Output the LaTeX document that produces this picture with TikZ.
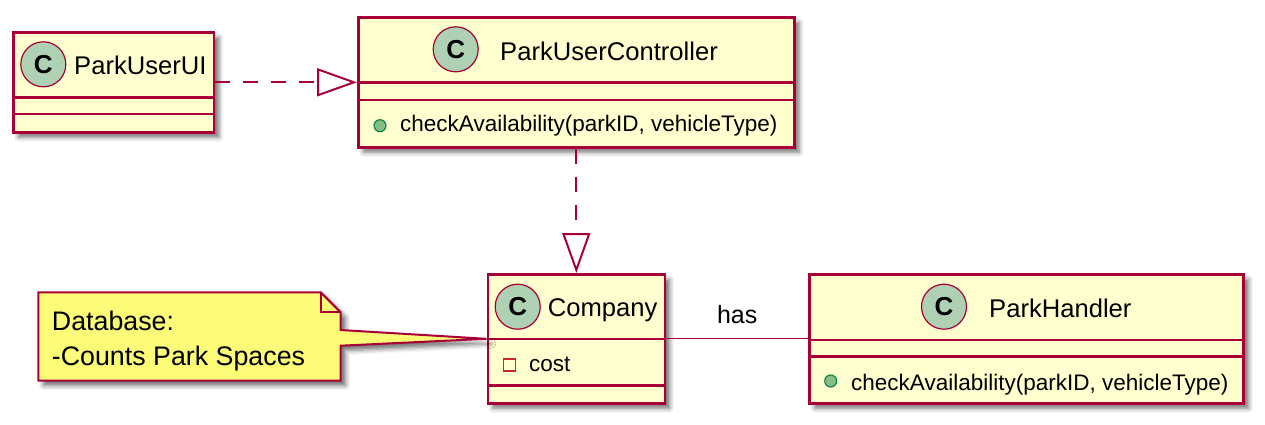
\documentclass[tikz,border=0pt]{standalone}
\usepackage{fontspec}
\setmainfont{Liberation Sans}
\usetikzlibrary{arrows.meta,shadows.blur,calc}
\definecolor{umlborder}{HTML}{A80036}
\definecolor{umlfill}{HTML}{FEFECE}
\definecolor{umlcircle}{HTML}{ADD1B2}
\definecolor{umlnote}{HTML}{FBFB77}
\definecolor{pubfill}{HTML}{84BE84}
\definecolor{pubborder}{HTML}{038048}
\definecolor{privborder}{HTML}{C82930}
\newcommand{\umlname}{\fontsize{25.6}{30}\selectfont}
\newcommand{\umlmember}{\fontsize{22.5}{27}\selectfont}
\newcommand{\umlnotefont}{\fontsize{26.8}{32}\selectfont}
\newcommand{\umlglyph}{\fontsize{26}{30}\selectfont\bfseries}
\begin{document}
\begin{tikzpicture}[x=1pt,y=-1pt,
  umlshadow/.style={blur shadow={shadow xshift=5pt, shadow yshift=-5pt, shadow blur radius=4.5pt, shadow opacity=55}},
  classbox/.style={draw=umlborder, fill=umlfill, line width=2.6pt, rectangle, inner sep=0pt, anchor=north west, umlshadow},
  sepline/.style={draw=umlborder, line width=2.6pt},
  circ/.style={circle, fill=umlcircle, draw=umlborder, line width=1.2pt, minimum size=45pt, inner sep=0pt, font=\umlglyph},
  nametext/.style={anchor=base west, inner sep=0pt, font=\umlname},
  membertext/.style={anchor=base west, inner sep=0pt, font=\umlmember},
  pubdot/.style={circle, fill=pubfill, draw=pubborder, line width=1.1pt, minimum size=12pt, inner sep=0pt},
  privsq/.style={rectangle, draw=privborder, line width=1.4pt, minimum size=12pt, inner sep=0pt},
  realize/.style={draw=umlborder, line width=2pt, dash pattern=on 15pt off 13pt, -{Triangle[open, length=40pt, width=28pt]}},
  assoc/.style={draw=umlborder, line width=1.3pt},
  notebox/.style={draw=umlborder, fill=umlnote, line width=2pt, line join=miter, umlshadow},
  notetext/.style={anchor=base west, inner sep=0pt, font=\umlnotefont}
]
\useasboundingbox (0,0) rectangle (1265,424);

% ParkUserUI
\node[classbox, minimum width=200.7pt, minimum height=100pt] (pui) at (12,31) {};
\draw[sepline] (12,97.7) -- (212.7,97.7);
\draw[sepline] (12,114) -- (212.7,114);
\node[circ] (puiC) at (43.3,64.3) {C};
\node[nametext] (puiT) at (74,74) {ParkUserUI};

% ParkUserController
\node[classbox, minimum width=436pt, minimum height=130pt] (puc) at (357,16) {};
\draw[sepline] (357,82.7) -- (793,82.7);
\draw[sepline] (357,100) -- (793,100);
\node[circ] (pucC) at (455.7,49.3) {C};
\node[nametext] (pucT) at (500,60) {ParkUserController};
\node[pubdot] (pucB) at (380,125.7) {};
\node[membertext] (pucM) at (400,131) {checkAvailability(parkID, vehicleType)};

% Company
\node[classbox, minimum width=177pt, minimum height=129pt] (comp) at (486.5,273) {};
\draw[sepline] (486.5,339) -- (663.5,339);
\draw[sepline] (486.5,385.7) -- (663.5,385.7);
\node[circ] (compC) at (517.7,306.7) {C};
\node[nametext] (compT) at (547.7,316.7) {Company};
\node[privsq] (compS) at (509.5,365) {};
\node[membertext] (compA) at (529,371.7) {cost};

% ParkHandler
\node[classbox, minimum width=434pt, minimum height=129pt] (ph) at (808.3,273) {};
\draw[sepline] (808.3,340) -- (1242.3,340);
\draw[sepline] (808.3,356.7) -- (1242.3,356.7);
\node[circ] (phC) at (944,306.7) {C};
\node[nametext] (phT) at (989,317.3) {ParkHandler};
\node[pubdot] (phB) at (830.7,381) {};
\node[membertext] (phM) at (851,390) {checkAvailability(parkID, vehicleType)};

% Note
\path[notebox] (38.3,292.3) -- (320.7,292.3) -- (340.7,312.3) -- (340.7,330)
  -- (comp.west) -- (340.7,345.7) -- (340.7,380.7) -- (38.3,380.7) -- cycle;
\draw[umlborder, line width=2pt] (320.7,292.3) -- (320.7,312.3) -- (340.7,312.3);
\node[notetext] (noteA) at (51.7,330.7) {Database:};
\node[notetext] (noteB) at (51.7,365) {-Counts Park Spaces};

% Connectors
\draw[realize] (pui.east) -- (puc.west);
\draw[realize] (puc.south) -- (comp.north);
\draw[assoc] (comp.east) -- node[above=14pt, inner sep=0pt, font=\fontsize{25}{30}\selectfont] (hasL) {has} (ph.west);
\end{tikzpicture}
\end{document}
